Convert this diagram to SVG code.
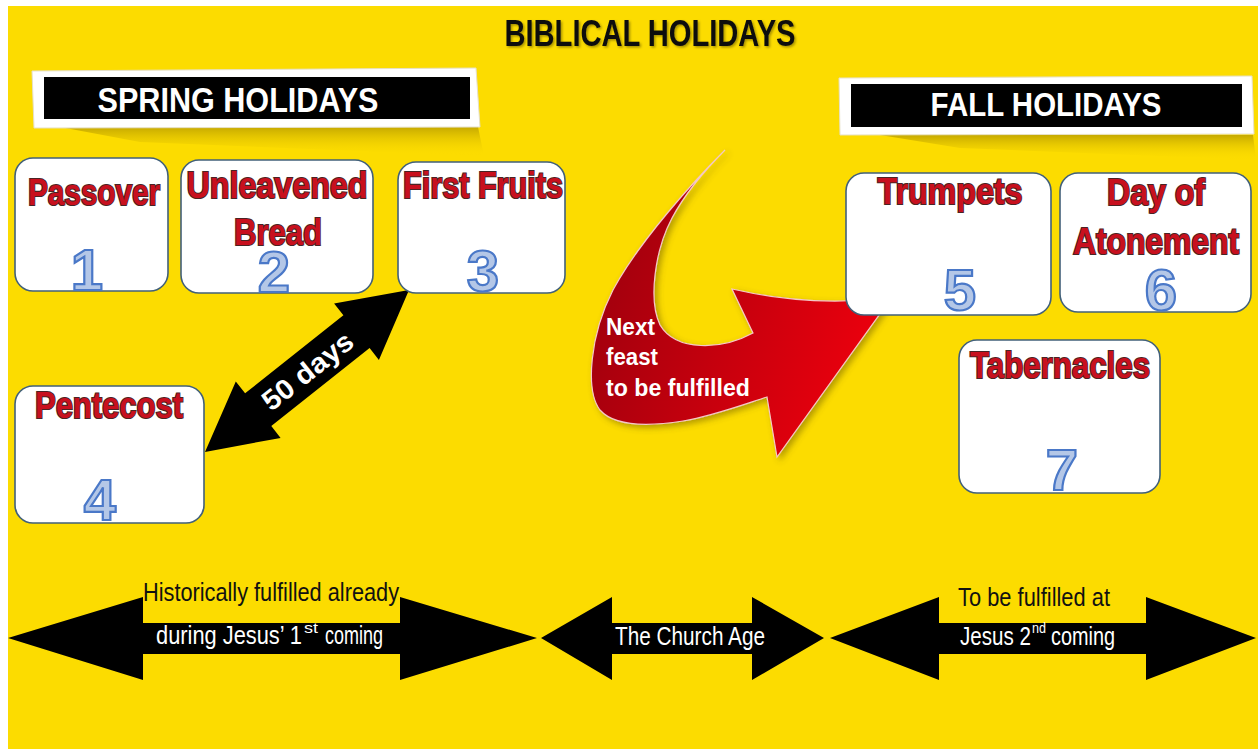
<svg xmlns="http://www.w3.org/2000/svg" width="1258" height="749" viewBox="0 0 1258 749">
<defs>
  <style>
    .title{font-family:"Liberation Sans",Arial,sans-serif;font-weight:bold;}
    .node rect{fill:#ffffff;stroke:#41607a;stroke-width:1.6;}
    .ntxt{font-family:"Liberation Sans",Arial,sans-serif;font-weight:bold;font-size:37px;fill:#c8101e;stroke:#4a2424;stroke-width:2.2;paint-order:stroke fill;text-anchor:middle;}
    .num{font-family:"Liberation Sans",Arial,sans-serif;font-weight:bold;font-size:58px;fill:#b4c7e7;stroke:#4a78c8;stroke-width:2.2;text-anchor:middle;}
    .lbl{font-family:"Liberation Sans",Arial,sans-serif;font-size:26px;}
    .sup{font-family:"Liberation Sans",Arial,sans-serif;font-size:14px;}
  </style>
  <filter id="tsh" x="-10%" y="-20%" width="130%" height="150%">
    <feDropShadow dx="1.5" dy="1.5" stdDeviation="1" flood-color="#000" flood-opacity="0.35"/>
  </filter>
  <filter id="ash" x="-20%" y="-20%" width="140%" height="140%">
    <feDropShadow dx="3" dy="3" stdDeviation="3" flood-color="#5a4a00" flood-opacity="0.45"/>
  </filter>
  <linearGradient id="redg" x1="0" y1="0" x2="1" y2="0.3">
    <stop offset="0" stop-color="#960012"/>
    <stop offset="0.6" stop-color="#c8000e"/>
    <stop offset="1" stop-color="#e8000a"/>
  </linearGradient>
  <linearGradient id="shg" x1="0" y1="0" x2="0" y2="1">
    <stop offset="0" stop-color="#b89c00" stop-opacity="0.8"/>
    <stop offset="1" stop-color="#fcdc00" stop-opacity="0"/>
  </linearGradient>
</defs>

<rect x="8" y="6" width="1250" height="743" fill="#fcdc00"/>

<g id="title">
  <text class="title" x="650" y="46" font-size="36" text-anchor="middle" textLength="291" lengthAdjust="spacingAndGlyphs" fill="#111" filter="url(#tsh)">BIBLICAL HOLIDAYS</text>
</g>

<g id="spring-banner">
  <polygon points="60,127 478,127 484,156 140,142" fill="url(#shg)"/>
  <polygon points="32,71 476,68 480,127 34,128" fill="#ffffff" stroke="#e6e0c8" stroke-width="1"/>
  <rect x="44" y="77" width="426" height="42" fill="#000"/>
  <text class="title" x="238" y="112" font-size="35" text-anchor="middle" textLength="281" lengthAdjust="spacingAndGlyphs" fill="#fff">SPRING HOLIDAYS</text>
</g>

<g id="fall-banner">
  <polygon points="880,135 1253,135 1256,160 960,148" fill="url(#shg)"/>
  <polygon points="839,78 1252,76 1254,134 840,135" fill="#ffffff" stroke="#e6e0c8" stroke-width="1"/>
  <rect x="851" y="84" width="391" height="43" fill="#000"/>
  <text class="title" x="1046" y="116" font-size="34" text-anchor="middle" textLength="231" lengthAdjust="spacingAndGlyphs" fill="#fff">FALL HOLIDAYS</text>
</g>

<g id="connectors">
  <g id="arrow-50days">
    <polygon points="205,452 280.6,437.9 271.3,426.1 369.6,348.1 378.9,359.9 409,290 334.1,303.5 343.4,315.3 245.1,393.3 235.8,381.5" fill="#000"/>
    <text class="title" transform="translate(307.4,370.7) rotate(-38.45)" x="0" y="10" font-size="28" text-anchor="middle" textLength="108" lengthAdjust="spacingAndGlyphs" fill="#fff">50 days</text>
  </g>
  <g id="arrow-next" filter="url(#ash)">
    <path d="M725,150 C695,180 640,240 613,290 C590,335 585,390 600,410 C614,426 645,427 683,421 C713,416 745,404 767,397 L777,457 L892,297 Q815,308 732,289 L753,333 C722,350 676,352 660,325 C648,300 655,250 672,218 C688,188 710,165 725,150 Z" fill="url(#redg)" stroke="#f4c8c8" stroke-width="1.2"/>
  </g>
  <g class="title" fill="#fff" font-size="24">
    <text x="606" y="335" textLength="49" lengthAdjust="spacingAndGlyphs">Next</text>
    <text x="606" y="365" textLength="52" lengthAdjust="spacingAndGlyphs">feast</text>
    <text x="606" y="396" textLength="144" lengthAdjust="spacingAndGlyphs">to be fulfilled</text>
  </g>
  <g id="arrow-spring">
    <polygon points="8,638 143,597 143,623 400,623 400,597 537,638 400,680 400,654 143,654 143,680" fill="#000"/>
  </g>
  <g id="arrow-church">
    <polygon points="541,638 612,597 612,623 752,623 752,597 824,638 752,680 752,654 612,654 612,680" fill="#000"/>
  </g>
  <g id="arrow-fall">
    <polygon points="830,638 939,597 939,623 1146,623 1146,597 1256,638 1146,680 1146,654 939,654 939,680" fill="#000"/>
  </g>
</g>

<g id="timeline-labels">
  <text class="lbl" x="143" y="601" textLength="256" lengthAdjust="spacingAndGlyphs" fill="#111">Historically fulfilled already</text>
  <text class="lbl" x="156" y="644" textLength="146" lengthAdjust="spacingAndGlyphs" fill="#fff">during Jesus’ 1</text>
  <text class="sup" x="304" y="633" textLength="14" lengthAdjust="spacingAndGlyphs" fill="#fff">st</text>
  <text class="lbl" x="325" y="644" textLength="58" lengthAdjust="spacingAndGlyphs" fill="#fff">coming</text>
  <text class="lbl" x="615" y="645" textLength="150" lengthAdjust="spacingAndGlyphs" fill="#fff">The Church Age</text>
  <text class="lbl" x="958" y="606" textLength="152" lengthAdjust="spacingAndGlyphs" fill="#111">To be fulfilled at</text>
  <text class="lbl" x="960" y="645" textLength="71" lengthAdjust="spacingAndGlyphs" fill="#fff">Jesus 2</text>
  <text class="sup" x="1032" y="633" textLength="14" lengthAdjust="spacingAndGlyphs" fill="#fff">nd</text>
  <text class="lbl" x="1051" y="645" textLength="64" lengthAdjust="spacingAndGlyphs" fill="#fff">coming</text>
</g>

<g id="node-passover" class="node">
  <rect x="15" y="158" width="153" height="133" rx="18"/>
  <text class="ntxt" x="94" y="205" textLength="132" lengthAdjust="spacingAndGlyphs">Passover</text>
  <text class="num" x="87" y="290">1</text>
</g>
<g id="node-unleavened" class="node">
  <rect x="181" y="160" width="192" height="133" rx="18"/>
  <text class="ntxt" x="277" y="198" textLength="181" lengthAdjust="spacingAndGlyphs">Unleavened</text>
  <text class="ntxt" x="278" y="245" textLength="88" lengthAdjust="spacingAndGlyphs">Bread</text>
  <text class="num" x="274" y="292">2</text>
</g>
<g id="node-firstfruits" class="node">
  <rect x="398" y="162" width="167" height="131" rx="18"/>
  <text class="ntxt" x="483" y="198" textLength="160" lengthAdjust="spacingAndGlyphs">First Fruits</text>
  <text class="num" x="483" y="291">3</text>
</g>
<g id="node-pentecost" class="node">
  <rect x="15" y="386" width="189" height="137" rx="18"/>
  <text class="ntxt" x="109" y="418" textLength="148" lengthAdjust="spacingAndGlyphs">Pentecost</text>
  <text class="num" x="100" y="520">4</text>
</g>
<g id="node-trumpets" class="node">
  <rect x="846" y="173" width="205" height="142" rx="18"/>
  <text class="ntxt" x="950" y="204" textLength="145" lengthAdjust="spacingAndGlyphs">Trumpets</text>
  <text class="num" x="960" y="310">5</text>
</g>
<g id="node-atonement" class="node">
  <rect x="1060" y="173" width="191" height="139" rx="18"/>
  <text class="ntxt" x="1156" y="205" textLength="98" lengthAdjust="spacingAndGlyphs">Day of</text>
  <text class="ntxt" x="1156" y="254" textLength="166" lengthAdjust="spacingAndGlyphs">Atonement</text>
  <text class="num" x="1161" y="310">6</text>
</g>
<g id="node-tabernacles" class="node">
  <rect x="959" y="340" width="201" height="153" rx="18"/>
  <text class="ntxt" x="1060" y="378" textLength="180" lengthAdjust="spacingAndGlyphs">Tabernacles</text>
  <text class="num" x="1062" y="490">7</text>
</g>
</svg>
